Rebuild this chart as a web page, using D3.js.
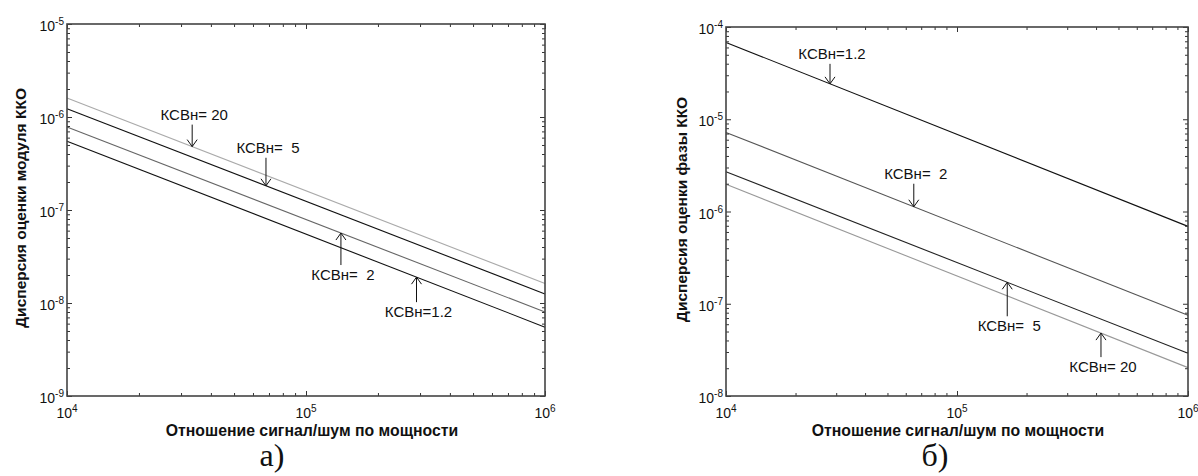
<!DOCTYPE html>
<html>
<head>
<meta charset="utf-8">
<script src="https://cdn.jsdelivr.net/npm/d3@7"></script>
<style>
  body { margin: 0; background: #fff; }
  svg { display: block; }
  text { font-family: "Liberation Sans", Arial, sans-serif; fill: #111; }
</style>
</head>
<body>
<svg id="chart" width="1198" height="476"></svg>
<script>
// x values (signal/noise power ratio) at which each line was read
var snr = [1e4, 1e6]
// modulus variance, panel а)
var modVswr20 = [1.6e-6, 1.62e-8]
var modVswr5 = [1.23e-6, 1.25e-8]
var modVswr2 = [7.8e-7, 8.0e-9]
var modVswr12 = [5.5e-7, 5.5e-9]
// phase variance, panel б)
var phVswr12 = [6.8e-5, 6.9e-7]
var phVswr2 = [7.2e-6, 7.5e-8]
var phVswr5 = [2.7e-6, 2.9e-8]
var phVswr20 = [1.97e-6, 2.03e-8]

var xTickExp = [4, 5, 6]
var modTickExp = [-9, -8, -7, -6, -5]
var phTickExp = [-8, -7, -6, -5, -4]

var svg = d3.select("#chart")

var panels = [
  {
    left: 67, top: 24, right: 545, bottom: 396,
    yDomain: [1e-9, 1e-5], yExp: modTickExp,
    ylabel: "Дисперсия оценки модуля ККО", ylabelX: 21, xlabelX: 312,
    caption: "а)", captionX: 272,
    series: [
      {vals: modVswr20, color: "#aaa"},
      {vals: modVswr5, color: "#111"},
      {vals: modVswr2, color: "#666"},
      {vals: modVswr12, color: "#111"}
    ],
    notes: [
      {text: "КСВн= 20", at: 3.34e4, s: 0, dir: "down", len: 22},
      {text: "КСВн=  5", at: 6.8e4, s: 1, dir: "down", len: 28},
      {text: "КСВн=  2", at: 1.4e5, s: 2, dir: "up", len: 32},
      {text: "КСВн=1.2", at: 2.9e5, s: 3, dir: "up", len: 25}
    ]
  },
  {
    left: 726, top: 27, right: 1188, bottom: 396,
    yDomain: [1e-8, 1e-4], yExp: phTickExp,
    ylabel: "Дисперсия оценки фазы ККО", ylabelX: 682, xlabelX: 958,
    caption: "б)", captionX: 935,
    series: [
      {vals: phVswr12, color: "#111"},
      {vals: phVswr2, color: "#555"},
      {vals: phVswr5, color: "#222"},
      {vals: phVswr20, color: "#999"}
    ],
    notes: [
      {text: "КСВн=1.2", at: 2.82e4, s: 0, dir: "down", len: 20},
      {text: "КСВн=  2", at: 6.5e4, s: 1, dir: "down", len: 23},
      {text: "КСВн=  5", at: 1.65e5, s: 2, dir: "up", len: 34},
      {text: "КСВн= 20", at: 4.2e5, s: 3, dir: "up", len: 24}
    ]
  }
]

panels.forEach(drawPanel)

function minorTicks(lo, hi) {
  var out = []
  for (var e = lo; e < hi; e++) {
    for (var m = 2; m <= 9; m++) out.push(m * Math.pow(10, e))
  }
  return out
}

function drawPanel(p) {
  var x = d3.scaleLog().domain([1e4, 1e6]).range([p.left, p.right])
  var y = d3.scaleLog().domain(p.yDomain).range([p.bottom, p.top])
  var g = svg.append("g")
  var yLo = Math.log10(p.yDomain[0]), yHi = Math.log10(p.yDomain[1])

  // lines
  var line = d3.line().x(d => x(d[0])).y(d => y(d[1]))
  p.series.forEach(function(s) {
    g.append("path")
      .datum(snr.map((v, i) => [v, s.vals[i]]))
      .attr("d", line)
      .attr("fill", "none")
      .attr("stroke", s.color)
      .attr("stroke-width", 1.1)
  })

  // inward ticks on all four sides
  var xMajor = xTickExp.map(e => Math.pow(10, e))
  var yMajor = p.yExp.map(e => Math.pow(10, e))
  var xMinor = minorTicks(4, 6)
  var yMinor = minorTicks(yLo, yHi)
  var axes = [
    {ax: d3.axisBottom(x), tr: [0, p.bottom]},
    {ax: d3.axisTop(x), tr: [0, p.top]},
    {ax: d3.axisLeft(y), tr: [p.left, 0]},
    {ax: d3.axisRight(y), tr: [p.right, 0]}
  ]
  axes.forEach(function(a, i) {
    var isX = i < 2
    var major = isX ? xMajor : yMajor
    var minor = isX ? xMinor : yMinor
    g.append("g")
      .attr("transform", "translate(" + a.tr[0] + "," + a.tr[1] + ")")
      .call(a.ax.tickValues(minor).tickSize(-3).tickFormat(""))
      .call(sel => sel.select(".domain").remove())
      .selectAll("line").attr("stroke", "#333")
    g.append("g")
      .attr("transform", "translate(" + a.tr[0] + "," + a.tr[1] + ")")
      .call(a.ax.tickValues(major).tickSize(-5).tickFormat(""))
      .call(sel => sel.select(".domain").remove())
      .selectAll("line").attr("stroke", "#333")
  })

  // frame
  g.append("rect")
    .attr("x", p.left).attr("y", p.top)
    .attr("width", p.right - p.left).attr("height", p.bottom - p.top)
    .attr("fill", "none").attr("stroke", "#444").attr("stroke-width", 1.6)

  // tick labels with exponents
  xTickExp.forEach(function(e) {
    var t = g.append("text")
      .attr("x", x(Math.pow(10, e)))
      .attr("y", p.bottom + 22)
      .attr("text-anchor", "middle")
      .style("font-size", "14px")
      .attr("fill", "#222")
    t.append("tspan").text("10")
    t.append("tspan").attr("dy", -6).style("font-size", "10px").text(e)
  })
  p.yExp.forEach(function(e) {
    var t = g.append("text")
      .attr("x", p.left - 3)
      .attr("y", y(Math.pow(10, e)) + 7)
      .attr("text-anchor", "end")
      .style("font-size", "14px")
      .attr("fill", "#222")
    t.append("tspan").text("10")
    t.append("tspan").attr("dy", -6).style("font-size", "10px").text(e)
  })

  // axis titles
  g.append("text")
    .attr("x", p.xlabelX)
    .attr("y", p.bottom + 40)
    .attr("text-anchor", "middle")
    .style("font-size", "15.8px").style("font-weight", "bold")
    .text("Отношение сигнал/шум по мощности")
  g.append("text")
    .attr("transform", "translate(" + p.ylabelX + "," + ((p.top + p.bottom) / 2 - 2) + ") rotate(-90)")
    .attr("dy", "0.35em")
    .attr("text-anchor", "middle")
    .style("font-size", "15.5px").style("font-weight", "bold")
    .text(p.ylabel)

  // annotations with arrows
  p.notes.forEach(function(n) {
    var s = p.series[n.s].vals
    var lineAt = d3.scaleLog().domain(snr).range(s.map(v => Math.log10(v)))
    var tx = x(n.at)
    var ty = y(Math.pow(10, lineAt(n.at)))
    var sign = n.dir === "down" ? -1 : 1
    var tail = ty + sign * n.len
    g.append("line")
      .attr("x1", tx).attr("y1", ty).attr("x2", tx).attr("y2", tail)
      .attr("stroke", "#111").attr("stroke-width", 1)
    g.append("path")
      .attr("d", "M" + (tx - 5) + "," + (ty + sign * 7) + "L" + tx + "," + ty + "L" + (tx + 5) + "," + (ty + sign * 7))
      .attr("fill", "none").attr("stroke", "#111").attr("stroke-width", 1)
    g.append("text")
      .attr("x", tx + 2)
      .attr("y", n.dir === "down" ? tail - 5 : tail + 15)
      .attr("text-anchor", "middle")
      .style("font-size", "15px")
      .style("white-space", "pre")
      .attr("xml:space", "preserve")
      .text(n.text)
  })

  // caption
  svg.append("text")
    .attr("x", p.captionX)
    .attr("y", 466)
    .attr("text-anchor", "middle")
    .style("font-family", "'Liberation Serif', 'Times New Roman', serif")
    .style("font-size", "32px")
    .text(p.caption)
}
</script>
</body>
</html>
